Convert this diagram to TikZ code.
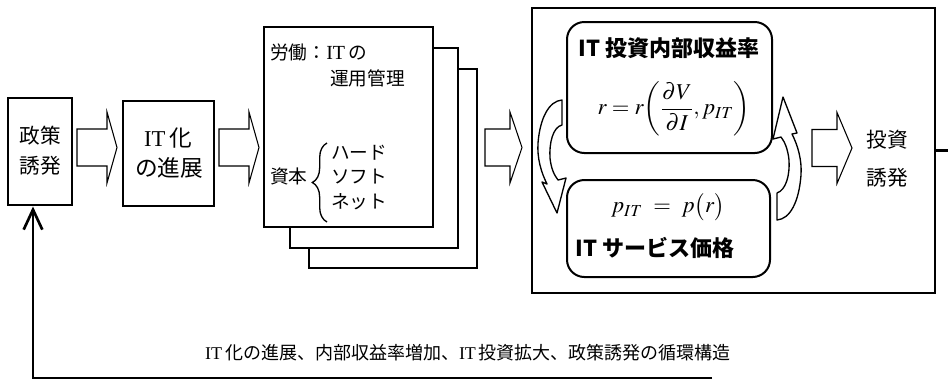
\documentclass[tikz,border=0pt]{standalone}
\usepackage{mathptmx}
\usepackage[no-math]{fontspec}
\setmainfont{Liberation Serif}
\newfontfamily\jp{Noto Sans CJK JP}
\usetikzlibrary{arrows.meta,decorations.pathreplacing}
\newcommand\blockarr[4]{%
  \draw[barr] (#1,#4-18.5) -- (#2,#4-18.5) -- (#2,#4-35.5) -- (#3,#4) -- (#2,#4+35.5) -- (#2,#4+18.5) -- (#1,#4+18.5) -- cycle;}
\begin{document}
\begin{tikzpicture}[x=0.75pt,y=-0.75pt,
  thickbox/.style={draw, line width=2.2pt, inner sep=0pt, fill=white},
  sheet/.style={draw, line width=0.8pt, inner sep=0pt, fill=white},
  roundbox/.style={draw, line width=1.5pt, rounded corners=13pt, inner sep=0pt},
  barr/.style={draw, line width=0.8pt, fill=white, line join=miter},
  curv/.style={draw, line width=1pt, fill=white, line join=round},
  loopline/.style={draw, line width=2pt},
  txt/.style={inner sep=0pt, font=\fontsize{15.5}{18}\selectfont\jp},
  ltxt/.style={inner sep=0pt, anchor=west, font=\fontsize{14}{17}\selectfont\jp},
  btxt/.style={inner sep=0pt, font=\fontsize{16.5}{19}\selectfont\jp\bfseries}]
\useasboundingbox (0,0) rectangle (948,380);

% boxes
\node[thickbox, minimum width=48pt, minimum height=80.25pt] (seisaku) at (40,151.5) {};
\node[txt] at (40,136) {政策};
\node[txt] at (40,166) {誘発};

\node[thickbox, minimum width=68.25pt, minimum height=78.75pt] (itka) at (168.5,153.5) {};
\node[inner sep=0pt, font=\fontsize{17}{20}\selectfont] at (168,138) {IT\,{\jp 化}};
\node[txt, font=\fontsize{17}{20}\selectfont\jp] at (169,168) {の進展};

\node[sheet, minimum width=126pt, minimum height=149.25pt] (back2) at (393,168.5) {};
\node[sheet, minimum width=126pt, minimum height=150pt] (back1) at (374,148) {};
\node[thickbox, minimum width=126.75pt, minimum height=150pt] (front) at (348.5,127) {};
\node[ltxt] at (270,52) {労働：{\rmfamily\fontsize{15}{17}\selectfont IT}\,の};
\node[ltxt] at (330,78) {運用管理};
\node[ltxt] at (270,176) {資本};
\draw[line width=1pt, decorate, decoration={brace, amplitude=11pt}] (327,222) -- (327,143);
\node[ltxt] at (331,153) {ハード};
\node[ltxt] at (331,177) {ソフト};
\node[ltxt] at (331,202) {ネット};

\node[thickbox, minimum width=302.25pt, minimum height=213.75pt] (big) at (733.5,150.5) {};
\node[roundbox, minimum width=153.75pt, minimum height=98.25pt] (irr) at (669.5,87.5) {};
\node[roundbox, minimum width=152.25pt, minimum height=72.75pt] (price) at (668.5,228.5) {};
\node[btxt] at (669,48) {IT 投資内部収益率};
\node[inner sep=0pt, font=\fontsize{17}{20}\selectfont] at (674,109)
  {$\displaystyle r = r\!\left(\frac{\partial V}{\partial I}, p_{IT}\right)$};
\node[inner sep=0pt, font=\fontsize{17}{20}\selectfont] at (668,207)
  {$p_{IT}\ =\ p\bigl(r\bigr)$};
\node[btxt] at (655,248) {IT サービス価格};

\node[txt] at (887,140) {投資};
\node[txt] at (887,178) {誘発};

% block arrows
\blockarr{77}{107}{117}{147.5}
\blockarr{219}{249}{259}{147.5}
\blockarr{485}{510}{522}{147.5}
\blockarr{812}{837}{852}{148}

% curved arrows
\draw[curv] (562,100) -- (562,125) .. controls (553,127) and (549,143) .. (550,158)
  .. controls (551,168) and (554,175) .. (558,180) -- (566,178) -- (557,213) -- (542,182)
  -- (547,184) .. controls (541,172) and (537,158) .. (538,143)
  .. controls (540,118) and (549,101) .. (562,100) -- cycle;
\draw[curv] (777,220) -- (777,193) .. controls (786,190) and (790,175) .. (789,160)
  .. controls (788,150) and (785,142) .. (781,137) -- (773,139) -- (783,97) -- (797,133)
  -- (792,134) .. controls (798,146) and (802,160) .. (801,175)
  .. controls (799,202) and (790,219) .. (777,220) -- cycle;

% feedback loop
\coordinate (rend) at (948,150.5);
\coordinate (bl) at (33,378);
\coordinate (br) at (712,378);
\draw[loopline] (big.east) -- (rend);
\draw[loopline, -{Straight Barb[length=15pt,width=14pt,line width=2pt]}] (br) -- (bl) -- (seisaku.south -| bl);
\node[inner sep=0pt, font=\fontsize{13.5}{16}\selectfont] at (468,353)
  {IT\,{\jp 化の進展、内部収益率増加、}IT\,{\jp 投資拡大、政策誘発の循環構造}};
\end{tikzpicture}
\end{document}
